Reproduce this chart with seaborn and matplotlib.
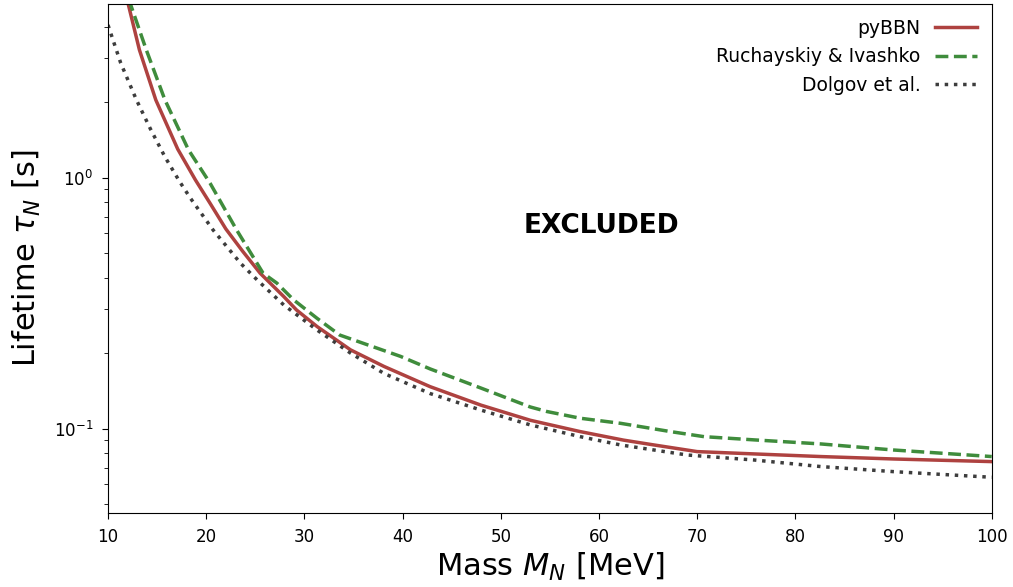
import matplotlib
matplotlib.use("Agg")
import matplotlib.pyplot as plt
import seaborn as sns

# pyBBN
mass_pybbn = [11.0, 12.07, 13.2, 14.87, 17.1, 18.9, 20.4, 22.0, 23.7, 25.5, 27.9, 29.2, 31.3, 34.7, 38.1,
              42.8, 48.0, 53.0, 58.1, 62.5, 65.6, 70.0, 75.8, 82.6, 90.0, 100.0]
tau_pybbn = [6.6, 4.9, 3.23, 2.04, 1.30, 0.98, 0.79, 0.625, 0.51, 0.416, 0.336, 0.297, 0.255, 0.206, 0.177,
             0.147, 0.124, 0.108, 0.0973, 0.090, 0.0861, 0.081, 0.0793, 0.0774, 0.0757, 0.0739]

# Ruchayskiy & Ivashko
mass_ri = [11.0, 12.3, 13.9, 15.8, 18.2, 20.4, 23.1, 25.8, 27.2, 28.9, 31.3, 33.6, 36.4, 39.8,
           42.8, 48.0, 53.0, 54.7, 58.1, 62.2, 67.3, 70.7, 75.8, 82.6, 90.0, 100.0]
tau_ri = [6.1, 4.9, 3.23, 2.04, 1.29, 0.95, 0.619, 0.416, 0.38, 0.326, 0.275, 0.236, 0.216, 0.194,
          0.173, 0.145, 0.122, 0.117, 0.110, 0.105, 0.0973, 0.0929, 0.0902, 0.0869, 0.0822, 0.0774]

# Dolgov et al.
mass_dolgov = [10.0, 11.3, 12.9, 14.3, 15.8, 17.3, 18.4, 20.7, 23.5, 25.2, 27.9, 31.3, 34.7, 38.1,
               42.8, 48.0, 53.0, 58.1, 62.2, 69.0, 75.8, 82.6, 90.0, 100.0]
tau_dolgov = [4.06, 2.86, 2.04, 1.57, 1.21, 0.964, 0.828, 0.619, 0.456, 0.391, 0.311, 0.247, 0.20, 0.166,
              0.138, 0.1185, 0.1035, 0.0929, 0.0861, 0.0785, 0.075, 0.0706, 0.0674, 0.064]

x_ticks = [10, 20, 30, 40, 50, 60, 70, 80, 90, 100]

fig = plt.figure(figsize=(10.13, 5.87), dpi=100)
ax = fig.add_axes([0.1066, 0.126, 0.8724, 0.8672])

sns.lineplot(x=mass_pybbn, y=tau_pybbn, ax=ax, color="#ae4240", lw=2.5, label="pyBBN")
sns.lineplot(x=mass_ri, y=tau_ri, ax=ax, color="#3f8c3c", lw=2.5, ls="--", label="Ruchayskiy & Ivashko")
sns.lineplot(x=mass_dolgov, y=tau_dolgov, ax=ax, color="#3d3d3d", lw=2.5, ls=":", label="Dolgov et al.")

ax.set_yscale("log")
ax.set_xlim(10, 100)
ax.set_ylim(0.0461, 4.92)
ax.set_xticks(x_ticks)
ax.set_xlabel(r"Mass $M_N$ [MeV]", fontsize=22, labelpad=4)
ax.set_ylabel(r"Lifetime $\tau_N$ [s]", fontsize=22, labelpad=8)
ax.tick_params(which="major", labelsize=12, length=4.5, pad=6)
ax.tick_params(which="minor", length=2.8)

ax.text(60.3, 0.64, "EXCLUDED", fontsize=19, fontweight="bold", ha="center", va="center")

ax.legend(loc="upper right", frameon=False, markerfirst=False, fontsize=13.5,
          handlelength=2.2, borderaxespad=0.4)

fig.savefig("out.png", dpi=100)
